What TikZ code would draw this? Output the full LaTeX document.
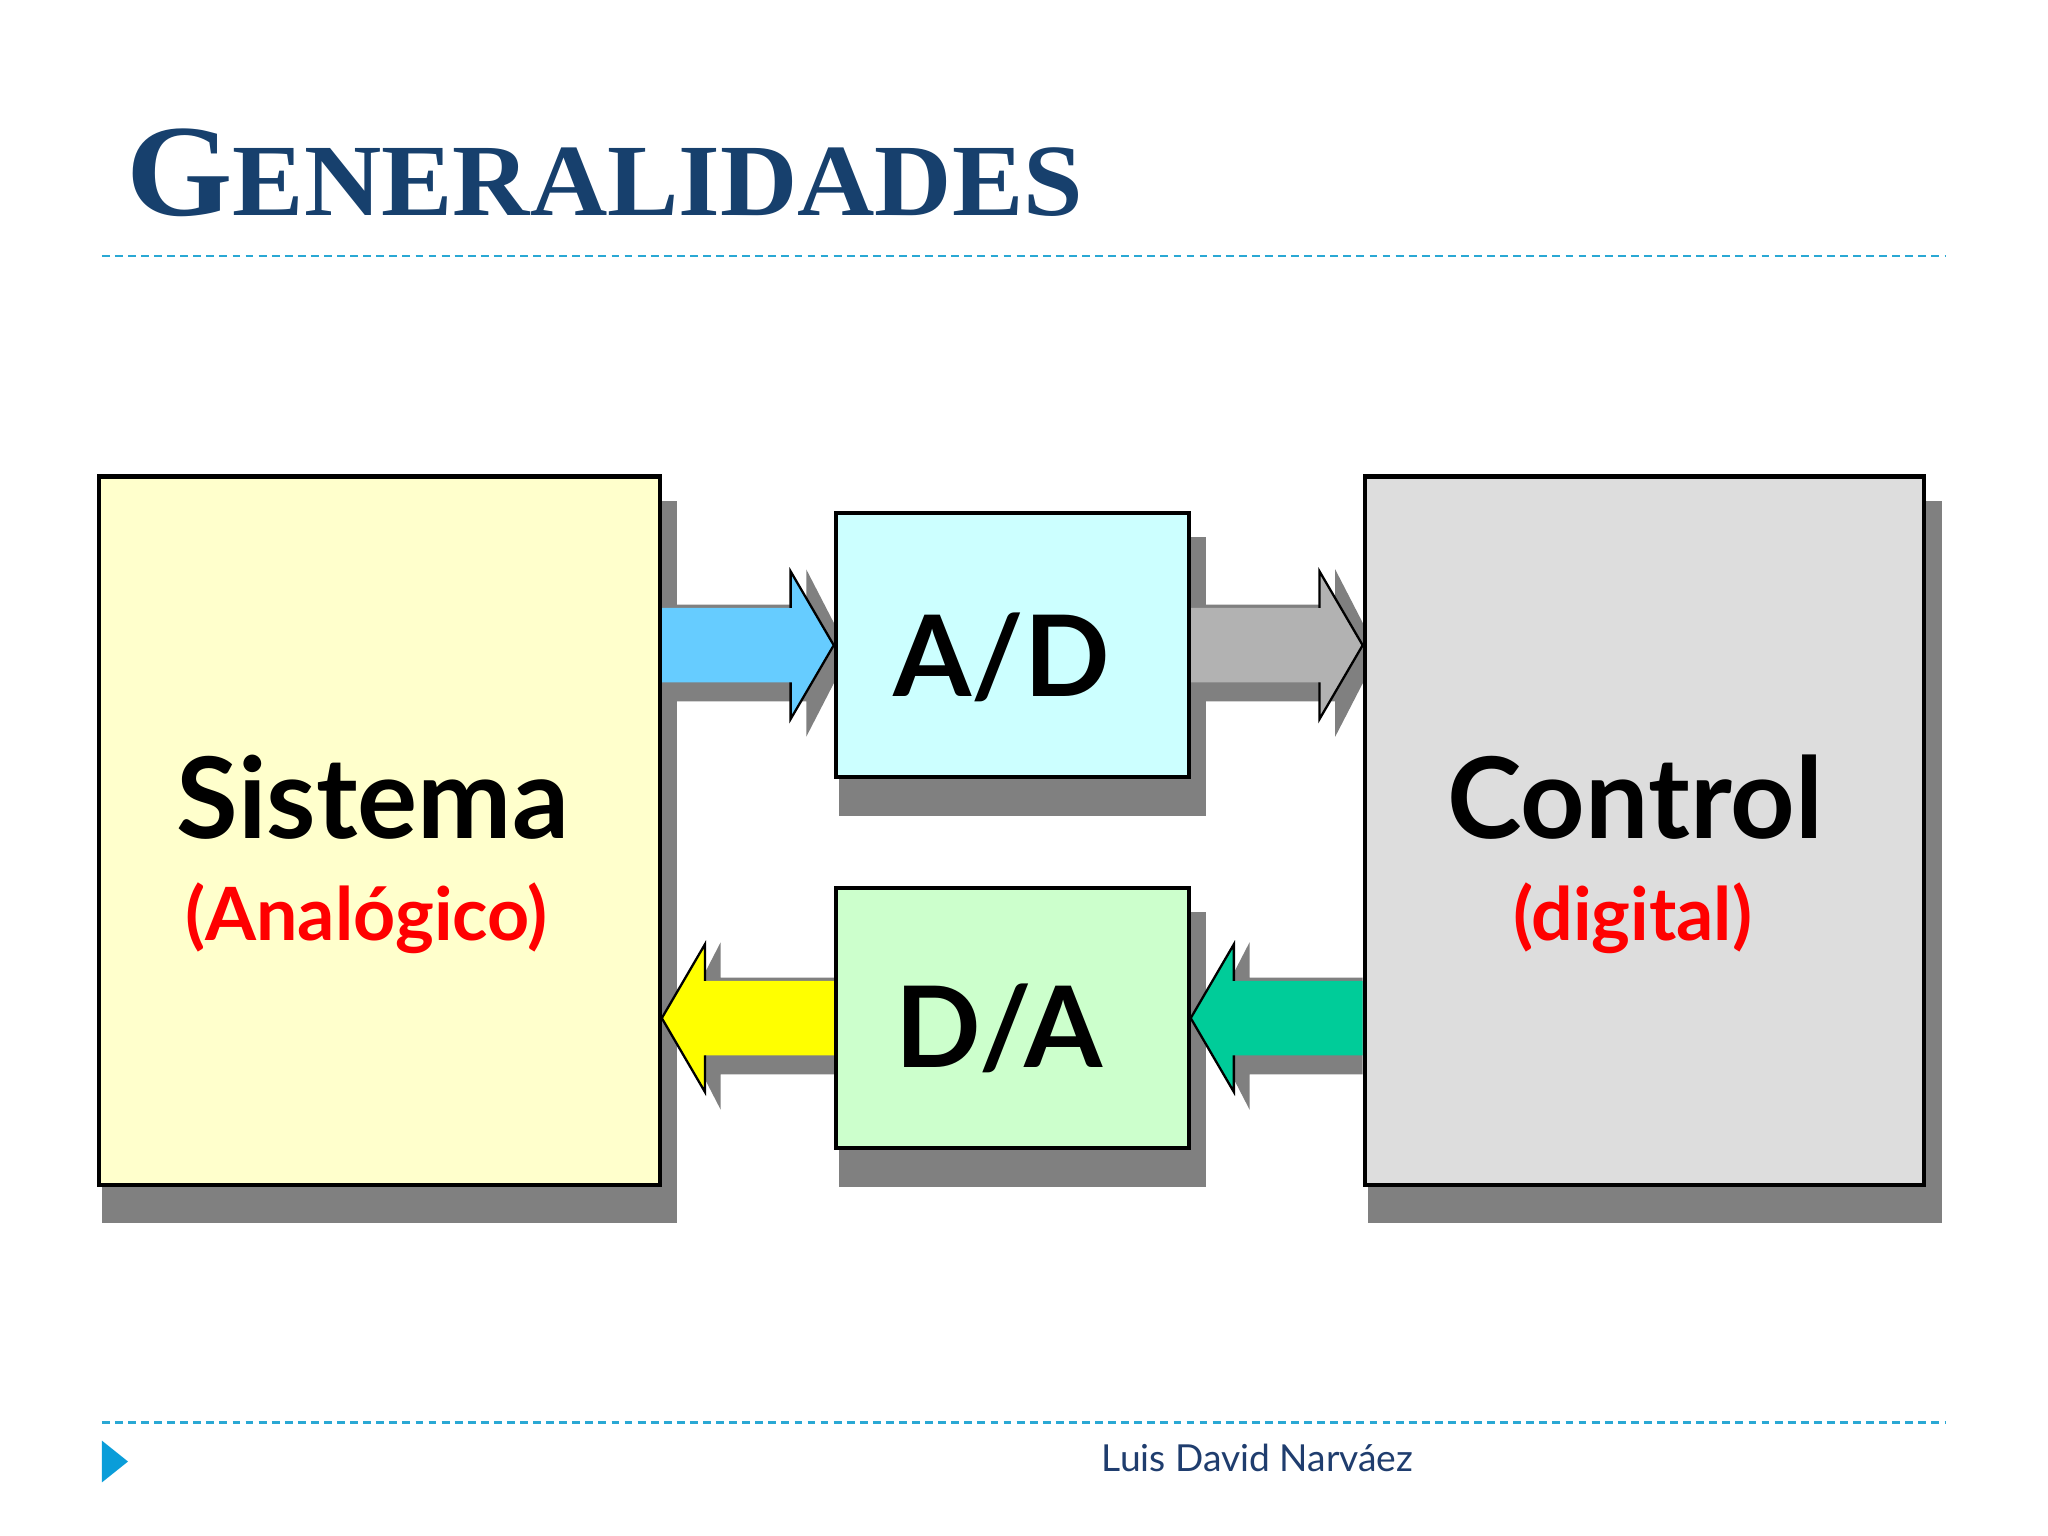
\documentclass[tikz,border=0pt]{standalone}
\usepackage{fontspec}
\setmainfont{Liberation Serif}
\newfontfamily\titlefont{Liberation Serif}[FakeStretch=1.045]
\newfontfamily\labelfont{Lato}
\usetikzlibrary{calc,backgrounds}

\definecolor{titleblue}{HTML}{17406D}
\definecolor{ruleblue}{HTML}{2AA8D4}
\definecolor{markblue}{HTML}{0A9DD9}
\definecolor{footblue}{HTML}{1F3D6E}
\definecolor{sisfill}{HTML}{FFFFCC}
\definecolor{adfill}{HTML}{CCFFFF}
\definecolor{dafill}{HTML}{CCFFCC}
\definecolor{ctlfill}{HTML}{DDDDDD}
\definecolor{shadowgray}{HTML}{808080}
\definecolor{arrblue}{HTML}{66CCFF}
\definecolor{arrgray}{HTML}{B2B2B2}
\definecolor{arryellow}{HTML}{FFFF00}
\definecolor{arrgreen}{HTML}{00CC99}
\definecolor{labelred}{HTML}{FF0000}

\begin{document}
\begin{tikzpicture}[x=0.01cm,y=-0.01cm,
    box/.style={draw=black, line width=0.9pt, inner sep=0pt},
    bigtxt/.style={font=\labelfont\bfseries\fontsize{24.5}{24.5}\selectfont, anchor=base, inner sep=0pt},
    smalltxt/.style={font=\labelfont\bfseries\fontsize{16}{16}\selectfont, text=labelred, anchor=base, inner sep=0pt}]
    \useasboundingbox (0,0) rectangle (1568,1176);

    % title and rules
    \node[anchor=base west, inner sep=0pt, text=titleblue, font=\titlefont\bfseries] (title) at (96,165)
        {\fontsize{28.5}{28.5}\selectfont G\fontsize{22.3}{22.3}\selectfont ENERALIDADES};
    \draw[ruleblue, line width=0.6pt, dash pattern=on 0.6mm off 0.4mm] (78,196) -- (1490,196);
    \draw[ruleblue, line width=0.6pt, dash pattern=on 0.6mm off 0.4mm] (78,1089) -- (1490,1089);

    % blocks
    \node[box, fill=sisfill, minimum width=4.29cm, minimum height=5.42cm] (sis) at (290.5,636) {};
    \node[box, fill=adfill, minimum width=2.70cm, minimum height=2.02cm] (ad) at (775,494) {};
    \node[box, fill=dafill, minimum width=2.70cm, minimum height=1.99cm] (da) at (775,779.5) {};
    \node[box, fill=ctlfill, minimum width=4.28cm, minimum height=5.42cm] (ctl) at (1259,636) {};

    \node[bigtxt] (sistxt) at ($(sis)+(-5,6)$) {Sistema};
    \node[smalltxt] (sissub) at ($(sis)+(-10,84)$) {(Analógico)};
    \node[bigtxt] (ctltxt) at ($(ctl)+(-7,6)$) {Control};
    \node[smalltxt] (ctlsub) at ($(ctl)+(-9,84)$) {(digital)};
    \node[bigtxt] (adtxt) at ($(ad)+(-8,39)$) {A/D};
    \node[bigtxt] (datxt) at ($(da)+(-10,37.5)$) {D/A};

    % arrow ends
    \coordinate (ad-in) at (sis.east |- ad.west);
    \coordinate (ctl-in) at (ctl.west |- ad.east);
    \coordinate (sis-in) at (sis.east |- da.west);
    \coordinate (da-in) at (ctl.west |- da.east);

    \begin{scope}[on background layer]
        \fill[white] (0,0) rectangle (1568,1176);
        \foreach \n in {sis,ad,da,ctl}
            \fill[shadowgray] ($(\n.north west)+(4,20)$) rectangle ($(\n.south east)+(12,28)$);
        \foreach \a/\b/\c in {ad-in/ad.west/arrblue, ad.east/ctl-in/arrgray, da.west/sis-in/arryellow, da-in/da.east/arrgreen} {
            % shadow
            \coordinate (sa) at ($(\a)+(0,6)$);
            \coordinate (sb) at ($(\b)+(12,6)$);
            \coordinate (sh) at ($(sb)!0.33cm!(sa)$);
            \fill[shadowgray] ($(sa)!0.37cm!90:(sb)$) -- ($(sh)!0.37cm!90:(sb)$) -- ($(sh)!0.64cm!90:(sb)$) -- (sb)
                -- ($(sh)!0.64cm!-90:(sb)$) -- ($(sh)!0.37cm!-90:(sb)$) -- ($(sa)!0.37cm!-90:(sb)$) -- cycle;
            % arrow
            \coordinate (h) at ($(\b)!0.33cm!(\a)$);
            \fill[\c] ($(\a)!0.285cm!90:(\b)$) -- ($(h)!0.285cm!90:(\b)$) -- ($(h)!0.565cm!90:(\b)$) -- (\b)
                -- ($(h)!0.565cm!-90:(\b)$) -- ($(h)!0.285cm!-90:(\b)$) -- ($(\a)!0.285cm!-90:(\b)$) -- cycle;
            \draw[line width=0.5pt] ($(h)!0.285cm!90:(\b)$) -- ($(h)!0.565cm!90:(\b)$) -- (\b)
                -- ($(h)!0.565cm!-90:(\b)$) -- ($(h)!0.285cm!-90:(\b)$);
        }
    \end{scope}

    % footer
    \fill[markblue] (78,1103) -- (98,1119) -- (78,1135) -- cycle;
    \node[anchor=base west, inner sep=0pt, text=footblue, font=\labelfont\fontsize{8.1}{8.1}\selectfont] (author) at (843,1127) {Luis David Narváez};
\end{tikzpicture}
\end{document}
